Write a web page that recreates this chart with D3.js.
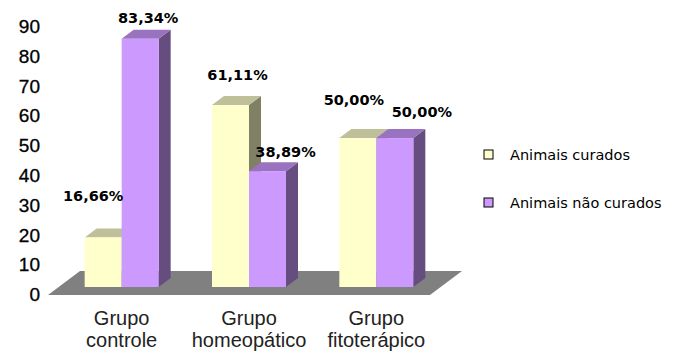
<!DOCTYPE html>
<html>
<head>
<meta charset="utf-8">
<script src="https://cdn.jsdelivr.net/npm/d3@7"></script>
<style>
  body { margin: 0; background: #fff; }
  svg { display: block; }
  .tick-label { font-family: "Liberation Sans", Arial, sans-serif; font-size: 19px; fill: #000; stroke: #000; stroke-width: 0.3px; }
  .cat-label { font-family: "Liberation Sans", Arial, sans-serif; font-size: 20px; fill: #222; }
  .value-label { font-family: "DejaVu Sans", Verdana, sans-serif; font-size: 14.5px; font-weight: bold; fill: #000; }
  .legend-label { font-family: "DejaVu Sans", Verdana, sans-serif; font-size: 14.5px; fill: #000; }
</style>
</head>
<body>
<svg id="chart" width="679" height="355"></svg>
<script>
// Chart data
const categories = [["Grupo", "controle"], ["Grupo", "homeopático"], ["Grupo", "fitoterápico"]];
const seriesNames = ["Animais curados", "Animais não curados"];
const curados = [16.66, 61.11, 50.00];
const naoCurados = [83.34, 38.89, 50.00];
const yTicks = [0, 10, 20, 30, 40, 50, 60, 70, 80, 90];

// Manual nudges for the data labels (they were dragged around in the original)
const labelNudgeCurados = [[-16, -20], [1, -9], [-10, -17]];
const labelNudgeNaoCurados = [[2, 0], [12, 2], [21, -5]];

// Colors: front, top, side
const palette = [
    { front: "#FFFFCC", top: "#BFBF99", side: "#808066" },
    { front: "#CC99FF", top: "#9973BF", side: "#664D80" }
];

const svg = d3.select("#chart");

// 3D depth offset of bars
const depthX = 12, depthY = 9;
const frontShift = 7.5; // bars stand a bit behind the front edge of the floor

const xScale = d3.scaleBand()
    .domain(d3.range(categories.length))
    .range([58, 440]);

const barWidth = 37;
const xSub = d3.scaleBand()
    .domain(seriesNames)
    .range([0, barWidth * 2]);

const yScale = d3.scaleLinear()
    .domain([0, 90])
    .range([294.5, 26.5]);

// Floor
const floorFront = yScale(0) + 0.5;
const floorBack = floorFront - 24;
svg.append("polygon")
    .attr("points", [
        [48, floorFront], [430, floorFront],
        [462, floorBack], [80, floorBack]
    ].map(p => p.join(",")).join(" "))
    .attr("fill", "#808080");

// Y tick labels
svg.append("g")
    .selectAll("text")
    .data(yTicks)
    .enter()
    .append("text")
    .attr("class", "tick-label")
    .attr("x", 40)
    .attr("y", d => yScale(d))
    .attr("dy", "0.35em")
    .attr("text-anchor", "end")
    .text(d => d);

// Bars
const fmt = v => d3.format(".2f")(v).replace(".", ",") + "%";

const rows = [];
categories.forEach((c, i) => {
    rows.push({ cat: i, s: 0, value: curados[i], nudge: labelNudgeCurados[i] });
    rows.push({ cat: i, s: 1, value: naoCurados[i], nudge: labelNudgeNaoCurados[i] });
});

const barX = d => xScale(d.cat) + xScale.bandwidth() / 2 - barWidth + xSub(seriesNames[d.s]);

const bars = svg.append("g")
    .selectAll("g")
    .data(rows)
    .enter()
    .append("g");

bars.each(function(d) {
    const g = d3.select(this);
    const x0 = barX(d);
    const x1 = x0 + xSub.bandwidth();
    const yTop = yScale(d.value) - frontShift;
    const yBase = yScale(0) - frontShift;
    const col = palette[d.s];

    // side face
    g.append("polygon")
        .attr("points", [[x1, yTop], [x1 + depthX, yTop - depthY], [x1 + depthX, yBase - depthY], [x1, yBase]]
            .map(p => p.join(",")).join(" "))
        .attr("fill", col.side);
    // top face
    g.append("polygon")
        .attr("points", [[x0, yTop], [x0 + depthX, yTop - depthY], [x1 + depthX, yTop - depthY], [x1, yTop]]
            .map(p => p.join(",")).join(" "))
        .attr("fill", col.top);
    // front face
    g.append("rect")
        .attr("x", x0)
        .attr("y", yTop)
        .attr("width", x1 - x0)
        .attr("height", yBase - yTop)
        .attr("fill", col.front);
});

// Value labels
svg.append("g")
    .selectAll("text")
    .data(rows)
    .enter()
    .append("text")
    .attr("class", "value-label")
    .attr("text-anchor", "middle")
    .attr("x", d => barX(d) + xSub.bandwidth() / 2 + depthX / 2 + d.nudge[0])
    .attr("y", d => yScale(d.value) - frontShift - depthY - 7 + d.nudge[1])
    .text(d => fmt(d.value));

// Category labels
const cat = svg.append("g")
    .selectAll("text")
    .data(categories)
    .enter()
    .append("text")
    .attr("class", "cat-label")
    .attr("text-anchor", "middle")
    .attr("x", (d, i) => xScale(i) + xScale.bandwidth() / 2)
    .attr("y", 325);

cat.append("tspan")
    .attr("x", function() { return this.parentNode.getAttribute("x"); })
    .text(d => d[0]);
cat.append("tspan")
    .attr("x", function() { return this.parentNode.getAttribute("x"); })
    .attr("dy", 22)
    .text(d => d[1]);

// Legend
const legend = svg.append("g")
    .selectAll("g")
    .data(seriesNames)
    .enter()
    .append("g")
    .attr("transform", (d, i) => `translate(484, ${150 + i * 48})`);

legend.append("rect")
    .attr("width", 9)
    .attr("height", 9)
    .attr("fill", (d, i) => palette[i].front)
    .attr("stroke", "#000")
    .attr("stroke-width", 1);

legend.append("text")
    .attr("class", "legend-label")
    .attr("x", 26)
    .attr("y", 4.5)
    .attr("dy", "0.35em")
    .text(d => d);
</script>
</body>
</html>
